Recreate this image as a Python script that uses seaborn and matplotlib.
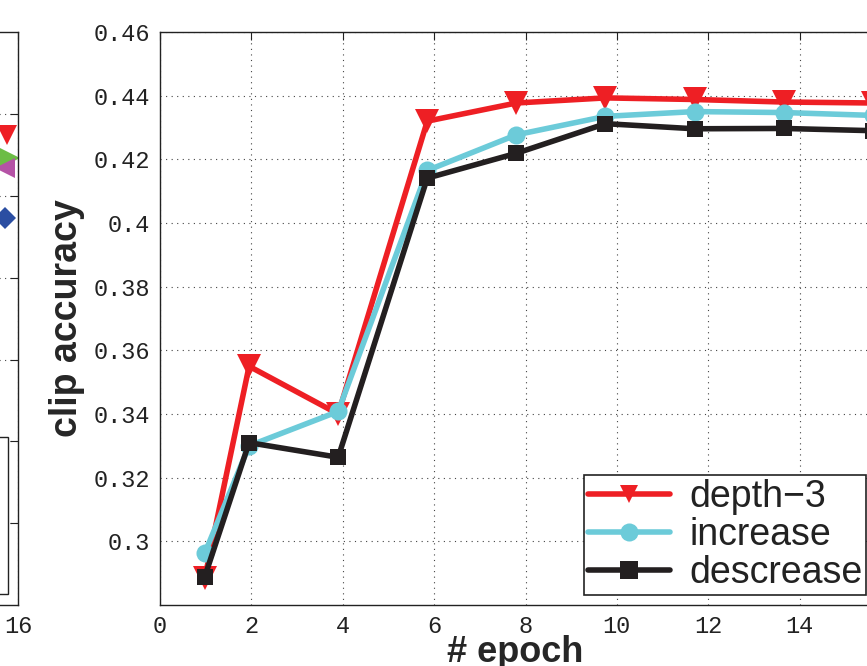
import numpy as np
import pandas as pd
import matplotlib
matplotlib.use("Agg")
import matplotlib.pyplot as plt
import seaborn as sns
from matplotlib.patches import Rectangle

# values
epochs = [0.98, 1.95, 3.9, 5.85, 7.8, 9.75, 11.7, 13.65, 15.6]
depth3 = [0.2885, 0.355, 0.340, 0.432, 0.4377, 0.4393, 0.4388, 0.4380, 0.4377]
increase = [0.2963, 0.3300, 0.3408, 0.4165, 0.4277, 0.4335, 0.4350, 0.4347, 0.4338]
descrease = [0.2889, 0.3310, 0.3264, 0.4141, 0.4219, 0.4312, 0.4296, 0.4297, 0.4290]
series_names = ['depth\u22123', 'increase', 'descrease']
series_colors = ['#ee1f24', '#6ccbd9', '#231f20']
series_markers = ['v', 'o', 's']

# neighbouring panel (only its last markers are visible)
left_x = [15.6, 15.7, 15.55, 15.55]
left_y = [0.4348, 0.4292, 0.4268, 0.4146]
left_colors = ['#ee1f24', '#6cbd45', '#b553a6', '#2b4ea2']
left_markers = ['v', '>', '<', 'D']

yticks = [0.3, 0.32, 0.34, 0.36, 0.38, 0.4, 0.42, 0.44, 0.46]
ytick_labels = ['0.3', '0.32', '0.34', '0.36', '0.38', '0.4', '0.42', '0.44', '0.46']
xticks = [0, 2, 4, 6, 8, 10, 12, 14]

sns.set_theme(style="white")
plt.rcParams['font.family'] = ['Liberation Sans', 'DejaVu Sans']

df = pd.DataFrame({
    'epoch': epochs * 3,
    'acc': depth3 + increase + descrease,
    'model': [n for n in series_names for _ in epochs],
})

W, H = 867, 666
fig = plt.figure(figsize=(W / 100, H / 100), dpi=100)

mono = 'Liberation Mono'
grid_kw = dict(color='#444444', linestyle=(0, (1, 4)), linewidth=0.8)

def style_axes(ax):
    for s in ax.spines.values():
        s.set_color('#222222')
        s.set_linewidth(1.0)
    ax.tick_params(direction='in', length=6, width=0.8, top=True, right=True,
                   colors='#222222', labelsize=17, pad=7)
    for lab in ax.get_xticklabels() + ax.get_yticklabels():
        lab.set_fontfamily(mono)
    ax.grid(True, **grid_kw)

# --- left (cut off) panel ---
axl = fig.add_axes([-0.5, 0.0916, 0.5208, 0.860])
for x, y, c, m in zip(left_x, left_y, left_colors, left_markers):
    if m == 'D':
        axl.plot([x], [y], marker=m, color=c, markersize=11, markerfacecolor=c,
                 markeredgewidth=0, linestyle='none')
    else:
        axl.plot([x], [y], marker=m, color=c, markersize=15, markeredgewidth=0,
                 linestyle='none')
axl.set_xlim(0, 16)
axl.set_ylim(0.32, 0.46)
axl.set_xticks([16])
axl.set_xticklabels(['16'])
axl.set_yticks([0.34, 0.36, 0.38, 0.40, 0.42, 0.44])
axl.set_yticklabels([])
style_axes(axl)
axl.add_patch(Rectangle((0.45, 0.019), 0.528, 0.274, transform=axl.transAxes,
                        fill=True, facecolor='white', edgecolor='#222222', linewidth=1.0, zorder=5))

# --- main panel ---
ax = fig.add_axes([160 / W, (H - 605) / H, (891 - 160) / W, (605 - 32) / H])
sns.lineplot(data=df, x='epoch', y='acc', hue='model', style='model',
             hue_order=series_names, style_order=series_names,
             palette=series_colors, markers=series_markers, dashes=False,
             linewidth=4, markersize=13, markeredgewidth=0, ax=ax, sort=False)
for line, m in zip(ax.get_lines(), series_markers):
    if m == 'v':
        line.set_markersize(17)
    elif m == 'o':
        line.set_markersize(13)
    else:
        line.set_markersize(12)

ax.set_xlim(0, 16)
ax.set_ylim(0.28, 0.46)
ax.set_xticks(xticks)
ax.set_yticks(yticks)
ax.set_yticklabels(ytick_labels)
style_axes(ax)
ax.set_xlabel('# epoch', fontsize=26, fontweight='bold')
ax.xaxis.set_label_coords((515 - 160) / 731, -0.053)
ax.set_ylabel('clip accuracy', fontsize=27, fontweight='bold', labelpad=6)

handles, labels = ax.get_legend_handles_labels()
leg = ax.legend(handles, labels, loc='lower left',
                bbox_to_anchor=((584 - 160) / 731, (605 - 595) / 573),
                borderaxespad=0, fontsize=27, frameon=True, fancybox=False,
                edgecolor='#222222', framealpha=1, labelspacing=0.06,
                handlelength=2.2, handletextpad=0.5, borderpad=0.1)
leg.get_frame().set_linewidth(1.2)
for t in leg.get_texts():
    t.set_color('#222222')

fig.savefig('out.png', dpi=100)
